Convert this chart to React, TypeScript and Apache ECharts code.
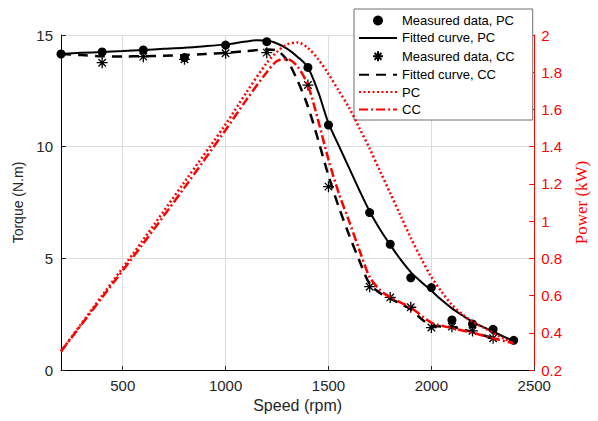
import React, { useEffect, useRef } from 'react';
import * as echarts from 'echarts';

// ---- data ----
const xTickValues = [500, 1000, 1500, 2000, 2500];

const speedMeasPC = [200, 400, 600, 800, 1000, 1200, 1400, 1500, 1700, 1800, 1900, 2000, 2100, 2200, 2300, 2400];
const torqueMeasPC = [14.15, 14.24, 14.33, 13.99, 14.55, 14.7, 13.55, 10.97, 7.05, 5.63, 4.13, 3.69, 2.24, 2.06, 1.82, 1.33];

const speedMeasCC = [400, 600, 800, 1000, 1200, 1400, 1500, 1700, 1800, 1900, 2000, 2100, 2200, 2300];
const torqueMeasCC = [13.76, 14.03, 13.91, 14.18, 14.21, 12.76, 8.21, 3.73, 3.25, 2.81, 1.9, 1.94, 1.75, 1.42];

const speedFitPC = [200, 300, 400, 500, 600, 700, 800, 900, 1000, 1050, 1100, 1150, 1200, 1250, 1300, 1350, 1400, 1450, 1500, 1550, 1600, 1650, 1700, 1750, 1800, 1850, 1900, 1950, 2000, 2050, 2100, 2150, 2200, 2250, 2300, 2350, 2400];
const torqueFitPC = [14.15, 14.2, 14.24, 14.28, 14.33, 14.38, 14.43, 14.5, 14.58, 14.64, 14.71, 14.76, 14.75, 14.62, 14.38, 14.02, 13.55, 12.45, 11.05, 10.05, 9.05, 8.05, 7.1, 6.3, 5.6, 4.95, 4.38, 3.95, 3.55, 3.13, 2.76, 2.45, 2.16, 1.93, 1.72, 1.5, 1.3];

const speedFitCC = [200, 300, 400, 500, 600, 700, 800, 900, 1000, 1100, 1200, 1250, 1300, 1350, 1400, 1450, 1500, 1550, 1600, 1650, 1700, 1750, 1800, 1850, 1900, 1950, 2000, 2050, 2100, 2150, 2200, 2250, 2300];
const torqueFitCC = [14.15, 14.1, 14.05, 14.04, 14.05, 14.07, 14.1, 14.15, 14.2, 14.28, 14.35, 14.3, 13.85, 12.95, 11.8, 10.3, 8.7, 7.3, 6.05, 4.9, 3.85, 3.45, 3.2, 2.97, 2.72, 2.3, 2.0, 1.95, 1.92, 1.82, 1.7, 1.56, 1.43];

const speedPowerPC = [200, 400, 600, 800, 1000, 1100, 1200, 1250, 1300, 1350, 1400, 1450, 1500, 1550, 1600, 1650, 1700, 1750, 1800, 1850, 1900, 1950, 2000, 2050, 2100, 2150, 2200, 2250, 2300, 2350, 2400];
const powerPC = [0.3, 0.6, 0.9, 1.21, 1.52, 1.69, 1.85, 1.91, 1.95, 1.96, 1.93, 1.87, 1.79, 1.7, 1.61, 1.5, 1.39, 1.27, 1.15, 1.03, 0.91, 0.8, 0.7, 0.62, 0.55, 0.5, 0.46, 0.43, 0.4, 0.37, 0.345];

const speedPowerCC = [200, 400, 600, 800, 1000, 1100, 1200, 1250, 1300, 1350, 1400, 1450, 1500, 1550, 1600, 1650, 1700, 1750, 1800, 1900, 2000, 2100, 2200, 2300, 2400];
const powerCC = [0.3, 0.59, 0.88, 1.18, 1.49, 1.65, 1.8, 1.86, 1.87, 1.83, 1.73, 1.54, 1.33, 1.15, 1.0, 0.845, 0.7, 0.63, 0.59, 0.535, 0.455, 0.425, 0.4, 0.37, 0.343];

const legendNames = ['Measured data, PC', 'Fitted curve, PC', 'Measured data, CC', 'Fitted curve, CC', 'PC', 'CC'];
const lineLegendNames = ['Fitted curve, PC', 'Fitted curve, CC', 'PC', 'CC'];

const pairs = (xs: number[], ys: number[]) => xs.map((x, i) => [x, ys[i]]);

const SANS = '"Liberation Sans", Arial, Helvetica, sans-serif';
const SERIF = '"Liberation Serif", "Times New Roman", serif';
const ASTERISK = 'path://M5 0 L5 10 M0 5 L10 5 M1.6 1.6 L8.4 8.4 M1.6 8.4 L8.4 1.6';

export default function App() {
  const ref = useRef<HTMLDivElement>(null);
  useEffect(() => {
    const chart = echarts.init(ref.current!, null, { renderer: 'svg' });
    chart.setOption({
      animation: false,
      backgroundColor: '#ffffff',
      grid: { left: 61, right: 62, top: 35, bottom: 51, containLabel: false },
      legend: {
        data: legendNames.map((n) =>
          lineLegendNames.indexOf(n) >= 0 ? { name: n, itemStyle: { opacity: 0 } } : { name: n }
        ),
        orient: 'vertical',
        left: 354,
        top: 9,
        itemWidth: 38,
        itemHeight: 10,
        itemGap: 4.4,
        padding: [5, 18, 4, 4],
        backgroundColor: '#ffffff',
        borderColor: '#6e6e6e',
        borderWidth: 1,
        borderRadius: 0,
        textStyle: { fontFamily: SANS, fontSize: 13, color: '#000000' },
      },
      xAxis: {
        type: 'value',
        min: 200,
        max: 2500,
        name: 'Speed (rpm)',
        nameLocation: 'middle',
        nameGap: 27,
        nameTextStyle: { fontFamily: SANS, fontSize: 16, color: '#262626' },
        axisLine: { show: true, onZero: false, lineStyle: { color: '#000000', width: 1 } },
        axisTick: { show: true, inside: true, length: 4, customValues: xTickValues, lineStyle: { color: '#262626' } },
        axisLabel: {
          customValues: xTickValues,
          formatter: (v: number) => String(v),
          fontFamily: SANS,
          fontSize: 15,
          color: '#262626',
          margin: 8,
        },
        splitLine: { show: true, customValues: xTickValues, lineStyle: { color: '#dcdcdc', width: 1 } },
      },
      yAxis: [
        {
          type: 'value',
          min: 0,
          max: 15,
          interval: 5,
          position: 'left',
          name: 'Torque (N.m)',
          nameLocation: 'middle',
          nameRotate: 90,
          nameGap: 29,
          nameTextStyle: { fontFamily: SANS, fontSize: 14, color: '#262626' },
          axisLine: { show: true, lineStyle: { color: '#000000', width: 1 } },
          axisTick: { show: true, inside: true, length: 5, lineStyle: { color: '#262626' } },
          axisLabel: { fontFamily: SANS, fontSize: 15, color: '#262626', margin: 8 },
          splitLine: { show: true, lineStyle: { color: '#dcdcdc', width: 1 } },
        },
        {
          type: 'value',
          min: 0.2,
          max: 2,
          interval: 0.2,
          position: 'right',
          name: 'Power (kW)',
          nameLocation: 'middle',
          nameRotate: 90,
          nameGap: 36,
          nameTextStyle: { fontFamily: SERIF, fontSize: 17, color: '#ff0000' },
          axisLine: { show: true, lineStyle: { color: '#ff0000', width: 1 } },
          axisTick: { show: true, inside: true, length: 5, lineStyle: { color: '#ff0000' } },
          axisLabel: { fontFamily: SANS, fontSize: 15, color: '#ff0000', margin: 7 },
          splitLine: { show: false },
        },
      ],
      series: [
        {
          name: 'Fitted curve, PC',
          type: 'line',
          yAxisIndex: 0,
          data: pairs(speedFitPC, torqueFitPC),
          smooth: 0.3,
          symbol: 'none',
          lineStyle: { color: '#000000', width: 2, type: 'solid' },
          itemStyle: { color: '#000000' },
          z: 3,
        },
        {
          name: 'Fitted curve, CC',
          type: 'line',
          yAxisIndex: 0,
          data: pairs(speedFitCC, torqueFitCC),
          smooth: 0.3,
          symbol: 'none',
          lineStyle: { color: '#000000', width: 2.5, type: [10, 7] },
          itemStyle: { color: '#000000' },
          z: 3,
        },
        {
          name: 'Measured data, PC',
          type: 'scatter',
          yAxisIndex: 0,
          data: pairs(speedMeasPC, torqueMeasPC),
          symbol: 'circle',
          symbolSize: 9,
          itemStyle: { color: '#000000', opacity: 1 },
          z: 4,
        },
        {
          name: 'Measured data, CC',
          type: 'scatter',
          yAxisIndex: 0,
          data: pairs(speedMeasCC, torqueMeasCC),
          symbol: ASTERISK,
          symbolSize: 11,
          itemStyle: { color: 'none', borderColor: '#000000', borderWidth: 1.3, opacity: 1 },
          z: 4,
        },
        {
          name: 'PC',
          type: 'line',
          yAxisIndex: 1,
          data: pairs(speedPowerPC, powerPC),
          smooth: 0.3,
          symbol: 'none',
          lineStyle: { color: '#ff0000', width: 2.5, type: [2, 2.5] },
          itemStyle: { color: '#ff0000' },
          z: 5,
        },
        {
          name: 'CC',
          type: 'line',
          yAxisIndex: 1,
          data: pairs(speedPowerCC, powerCC),
          smooth: 0.3,
          symbol: 'none',
          lineStyle: { color: '#ff0000', width: 2.5, type: [9, 3, 2, 3] },
          itemStyle: { color: '#ff0000' },
          z: 5,
        },
      ],
    });
    return () => chart.dispose();
  }, []);
  return (
    <div
      ref={ref}
      style={{ position: 'fixed', left: 0, top: 0, width: 598, height: 421, background: '#ffffff' }}
    />
  );
}
